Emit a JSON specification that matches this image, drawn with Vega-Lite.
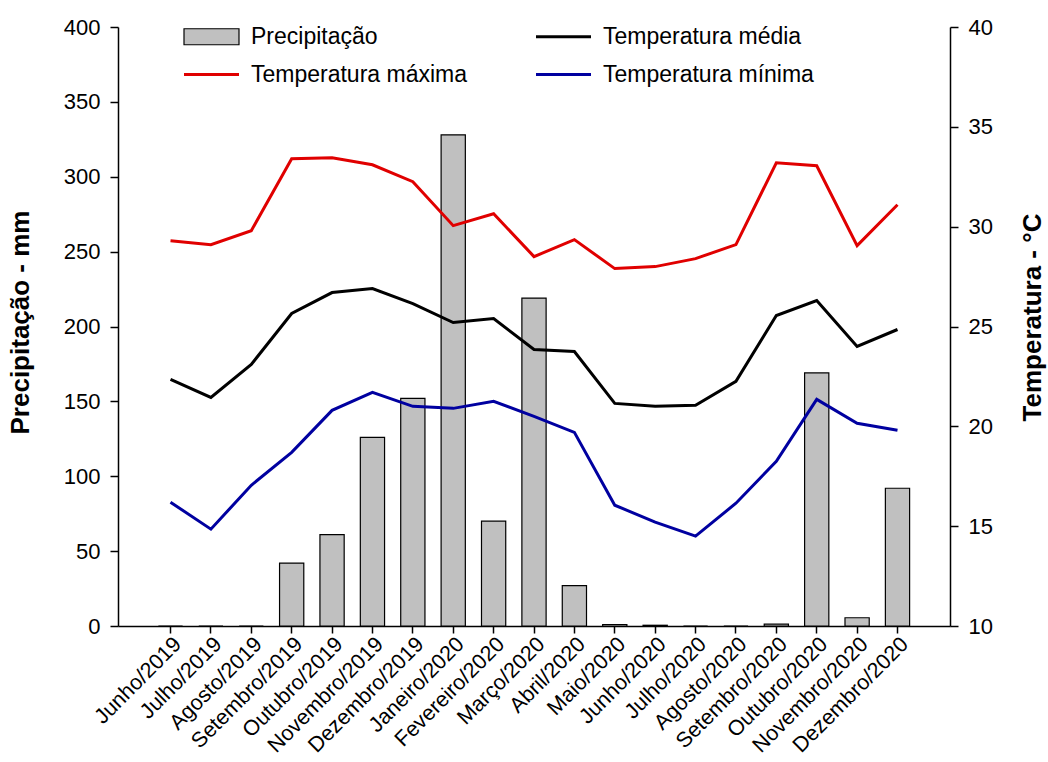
{
  "$schema": "https://vega.github.io/schema/vega-lite/v6.json",
  "width": 832,
  "height": 599,
  "autosize": {"type": "none"},
  "padding": {"left": 118, "top": 27, "right": 98, "bottom": 136},
  "background": "white",
  "config": {
    "view": {"stroke": null},
    "font": "Liberation Sans",
    "axis": {
      "domainColor": "black",
      "domainWidth": 1.5,
      "tickColor": "black",
      "tickWidth": 1.5,
      "tickSize": 8,
      "labelColor": "black",
      "labelFont": "Liberation Sans",
      "labelFontSize": 22,
      "titleFont": "Liberation Sans",
      "titleFontSize": 26,
      "titleFontWeight": "bold",
      "titleColor": "black",
      "grid": false
    },
    "legend": {
      "labelFont": "Liberation Sans",
      "labelFontSize": 23,
      "labelColor": "black",
      "labelLimit": 500
    }
  },
  "data": {
    "values": [
      {"mes": "Junho/2019", "precip": 0, "Temperatura máxima": 29.3, "Temperatura média": 22.35, "Temperatura mínima": 16.2},
      {"mes": "Julho/2019", "precip": 0, "Temperatura máxima": 29.1, "Temperatura média": 21.45, "Temperatura mínima": 14.85},
      {"mes": "Agosto/2019", "precip": 0, "Temperatura máxima": 29.8, "Temperatura média": 23.1, "Temperatura mínima": 17.05},
      {"mes": "Setembro/2019", "precip": 42, "Temperatura máxima": 33.4, "Temperatura média": 25.65, "Temperatura mínima": 18.7},
      {"mes": "Outubro/2019", "precip": 61, "Temperatura máxima": 33.45, "Temperatura média": 26.7, "Temperatura mínima": 20.8},
      {"mes": "Novembro/2019", "precip": 126, "Temperatura máxima": 33.1, "Temperatura média": 26.9, "Temperatura mínima": 21.7},
      {"mes": "Dezembro/2019", "precip": 152, "Temperatura máxima": 32.25, "Temperatura média": 26.15, "Temperatura mínima": 21.0},
      {"mes": "Janeiro/2020", "precip": 328, "Temperatura máxima": 30.05, "Temperatura média": 25.2, "Temperatura mínima": 20.9},
      {"mes": "Fevereiro/2020", "precip": 70, "Temperatura máxima": 30.65, "Temperatura média": 25.4, "Temperatura mínima": 21.25},
      {"mes": "Março/2020", "precip": 219, "Temperatura máxima": 28.5, "Temperatura média": 23.85, "Temperatura mínima": 20.5},
      {"mes": "Abril/2020", "precip": 27, "Temperatura máxima": 29.35, "Temperatura média": 23.75, "Temperatura mínima": 19.7},
      {"mes": "Maio/2020", "precip": 1, "Temperatura máxima": 27.9, "Temperatura média": 21.15, "Temperatura mínima": 16.05},
      {"mes": "Junho/2020", "precip": 0.5, "Temperatura máxima": 28.0, "Temperatura média": 21.0, "Temperatura mínima": 15.2},
      {"mes": "Julho/2020", "precip": 0, "Temperatura máxima": 28.4, "Temperatura média": 21.05, "Temperatura mínima": 14.5},
      {"mes": "Agosto/2020", "precip": 0, "Temperatura máxima": 29.1, "Temperatura média": 22.25, "Temperatura mínima": 16.15},
      {"mes": "Setembro/2020", "precip": 1.2, "Temperatura máxima": 33.2, "Temperatura média": 25.55, "Temperatura mínima": 18.25},
      {"mes": "Outubro/2020", "precip": 169, "Temperatura máxima": 33.05, "Temperatura média": 26.3, "Temperatura mínima": 21.35},
      {"mes": "Novembro/2020", "precip": 5.5, "Temperatura máxima": 29.05, "Temperatura média": 24.0, "Temperatura mínima": 20.15},
      {"mes": "Dezembro/2020", "precip": 92, "Temperatura máxima": 31.1, "Temperatura média": 24.85, "Temperatura mínima": 19.8}
    ]
  },
  "encoding": {
    "x": {
      "field": "mes",
      "type": "nominal",
      "sort": null,
      "scale": {"paddingInner": 0.4, "paddingOuter": 1.165},
      "axis": {
        "title": null,
        "labelAngle": -45,
        "labelAlign": "right",
        "labelBaseline": "top",
        "labelPadding": 0,
        "labelFontSize": 21.5,
        "tickSize": 7
      }
    }
  },
  "layer": [
    {
      "mark": {"type": "bar", "fill": "#c0c0c0", "stroke": "black", "strokeWidth": 1.2},
      "encoding": {
        "y": {
          "field": "precip",
          "type": "quantitative",
          "scale": {"domain": [0, 400], "nice": false},
          "axis": {
            "title": "Precipitação - mm",
            "values": [0, 50, 100, 150, 200, 250, 300, 350, 400],
            "labelPadding": 10,
            "titleX": -98,
            "titleY": 295,
            "titleAlign": "center",
            "titleBaseline": "middle",
            "titleAngle": 270
          }
        }
      }
    },
    {
      "transform": [
        {"fold": ["Temperatura máxima", "Temperatura média", "Temperatura mínima"], "as": ["serie", "temp"]}
      ],
      "mark": {"type": "line", "strokeWidth": 3},
      "encoding": {
        "y": {
          "field": "temp",
          "type": "quantitative",
          "scale": {"domain": [10, 40], "nice": false, "zero": false},
          "axis": {
            "orient": "right",
            "title": "Temperatura - °C",
            "values": [10, 15, 20, 25, 30, 35, 40],
            "labelPadding": 10,
            "titleX": 82,
            "titleY": 290,
            "titleAlign": "center",
            "titleBaseline": "middle",
            "titleAngle": 270
          }
        },
        "color": {
          "field": "serie",
          "type": "nominal",
          "scale": {
            "domain": ["Precipitação", "Temperatura média", "Temperatura máxima", "Temperatura mínima"],
            "range": ["#000000", "#000000", "#e00000", "#0000a0"]
          },
          "legend": {
            "title": null,
            "orient": "none",
            "legendX": 65,
            "legendY": -2,
            "direction": "horizontal",
            "columns": 2,
            "columnPadding": 62,
            "rowPadding": 14,
            "symbolSize": 400,
            "symbolOffset": 17,
            "labelOffset": 28,
            "encode": {
              "symbols": {
                "update": {
                  "shape": {"signal": "datum.value === 'Precipitação' ? 'M-2.75,-0.8H2.75V0.8H-2.75Z' : 'M-2.75,0H2.75'"},
                  "fill": {"signal": "datum.value === 'Precipitação' ? '#c0c0c0' : 'transparent'"},
                  "stroke": {"signal": "datum.value === 'Temperatura máxima' ? '#e00000' : (datum.value === 'Temperatura mínima' ? '#0000a0' : '#000000')"},
                  "strokeWidth": {"signal": "datum.value === 'Precipitação' ? 1.2 : 3"},
                  "opacity": {"value": 1}
                }
              }
            }
          }
        }
      }
    }
  ],
  "resolve": {"scale": {"y": "independent"}}
}
